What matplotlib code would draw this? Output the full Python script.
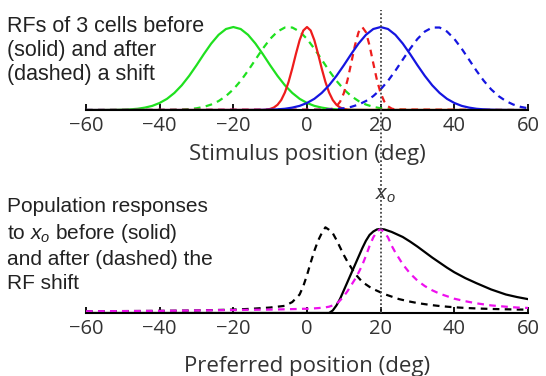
import numpy as np
import matplotlib
matplotlib.use('Agg')
import matplotlib.pyplot as plt

plt.rcParams['mathtext.fontset'] = 'custom'
plt.rcParams['mathtext.rm'] = 'Liberation Sans'
plt.rcParams['mathtext.it'] = 'Liberation Sans:italic'

# ---- data ----
# receptive fields (top panel), sampled every 2 deg
rf_x = np.arange(-60, 61, 2)
green_before = [0, 0, 0, .001, .002, .004, .008, .015, .029, .050, .085, .135, .206, .298, .411,
                .539, .674, .801, .906, .976, 1, .976, .906, .801, .674, .539, .411, .298, .206,
                .135, .085, .050, .029, .015, .008, .004, .002, .001] + [0] * 23
green_after = [0] * 11 + [.001, .003, .006, .011, .021, .038, .066, .108, .168, .249, .352, .474,
                          .607, .739, .857, .946, .994, .994, .946, .857, .739, .607, .474, .352,
                          .249, .168, .108, .066, .038, .021, .011, .006, .003, .001] + [0] * 16
blue_before = [0] * 23 + [.001, .002, .004, .008, .015, .029, .050, .085, .135, .206, .298, .411,
                          .539, .674, .801, .906, .976, 1, .976, .906, .801, .674, .539, .411,
                          .298, .206, .135, .085, .050, .029, .015, .008, .004, .002, .001, 0, 0, 0]
blue_after = [0] * 31 + [.001, .003, .006, .011, .021, .038, .066, .108, .168, .249, .352, .474,
                         .607, .739, .857, .946, .994, .994, .946, .857, .739, .607, .474, .352,
                         .249, .168, .108, .066, .038, .021]

# narrow (red) cell, sampled every 1 deg near its peak
red_before_x = [-60] + list(range(-12, 13)) + [60]
red_before = [0, .002, .005, .013, .030, .063, .120, .211, .339, .500, .677, .841, .958, 1,
              .958, .841, .677, .500, .339, .211, .120, .063, .030, .013, .005, .002, 0]
red_after_x = [-60] + list(range(6, 25)) + [60]
red_after = [0, .006, .017, .044, .101, .203, .360, .563, .775, .938, 1, .938, .775, .563, .360,
             .203, .101, .044, .017, .006, 0]

# population responses (bottom panel)
pop_x = [-60, -40, -30, -20, -15, -10, -8, -6, -4, -2, -1, 0, 1, 2, 3, 4, 5, 6, 7, 8, 9, 10,
         11, 12, 13, 14, 15, 16, 17, 18, 19, 20, 21, 22, 23, 24, 25, 26, 28, 30, 32, 34, 36, 38,
         40, 43, 46, 50, 54, 57, 60]
pop_before = [0] * 18 + [.03, .09, .17, .27, .37, .47, .57, .67, .77, .86, .93, .97, .995, 1,
                         .995, .98, .965, .945, .925, .905, .85, .79, .725, .66, .60, .54, .485,
                         .415, .355, .28, .22, .19, .165]
pop_after_magenta = [.02, .025, .03, .035, .038, .04, .042, .044, .046, .048, .05, .05, .052,
                     .055, .058, .062, .067, .075, .09, .11, .15, .2, .26, .33, .4, .48, .57,
                     .68, .8, .9, .97, 1, .96, .9, .8, .72, .65, .58, .47, .385, .32, .27, .23,
                     .2, .17, .14, .115, .09, .075, .065, .06]
pop_after_black = [.02, .025, .03, .04, .05, .065, .075, .085, .13, .22, .32, .45, .6, .74, .86,
                   .95, 1.02, .99, .95, .87, .78, .69, .61, .54, .47, .42, .37, .34, .31, .285,
                   .265, .245, .225, .21, .195, .18, .165, .155, .135, .118, .105, .093, .083,
                   .075, .068, .06, .054, .048, .044, .041, .04]

x_ticks = [-60, -40, -20, 0, 20, 40, 60]
x_stim = 20

GREEN = '#1fe01f'
RED = '#ee1c1c'
BLUE = '#1515e0'
MAGENTA = '#ee10ee'

fig = plt.figure(figsize=(5.46, 3.76), dpi=100)
ax1 = fig.add_axes([0.1575, 0.7074, 0.8095, 0.2428])
ax2 = fig.add_axes([0.1575, 0.1676, 0.8095, 0.2457])

dash = (0, (3, 2.4))
lw = 1.6
ax1.plot(rf_x, green_before, c=GREEN, lw=lw)
ax1.plot(rf_x, green_after, c=GREEN, lw=lw, ls=dash)
ax1.plot(red_before_x, red_before, c=RED, lw=lw)
ax1.plot(red_after_x, red_after, c=RED, lw=lw, ls=dash)
ax1.plot(rf_x, blue_before, c=BLUE, lw=lw)
ax1.plot(rf_x, blue_after, c=BLUE, lw=lw, ls=dash)

ax2.plot(pop_x, pop_before, c='k', lw=lw)
ax2.plot(pop_x, pop_after_black, c='k', lw=lw, ls=dash)
ax2.plot(pop_x, pop_after_magenta, c=MAGENTA, lw=lw, ls=dash)

for ax in (ax1, ax2):
    ax.set_xlim(-60, 60)
    ax.set_ylim(0, 1.1)
    ax.set_yticks([])
    ax.set_xticks(x_ticks)
    ax.set_xticklabels([str(t).replace('-', '\u2212') for t in x_ticks],
                       fontfamily='Open Sans')
    for s in ('top', 'left', 'right'):
        ax.spines[s].set_visible(False)
    ax.spines['bottom'].set_linewidth(1.5)
    ax.tick_params(axis='x', direction='in', length=4, width=1.3, color='k',
                   labelsize=14.5, labelcolor='#333333', pad=4)
    ax.patch.set_alpha(0)

ax1.set_xlabel('Stimulus position (deg)', fontsize=16, color='#333333', fontfamily='Open Sans')
ax1.xaxis.set_label_coords(0.5, -0.37)
ax2.set_xlabel('Preferred position (deg)', fontsize=16, color='#333333', fontfamily='Open Sans')
ax2.xaxis.set_label_coords(0.5, -0.47)

# dotted line at the stimulus position, running through both panels
ax2.axvline(x_stim, ymin=0, ymax=3.28, clip_on=False, color='#444444', lw=1.3,
            ls=(0, (1, 1.2)), zorder=5)
ax2.annotate('$x_o$', xy=(x_stim, 1.40), xytext=(-4, 0), textcoords='offset points',
             ha='left', va='center', fontsize=15, color='#333333', annotation_clip=False)

fig.text(0.012, 1 - 16 / 376, 'RFs of 3 cells before\n(solid) and after\n(dashed) a shift',
         ha='left', va='top', fontsize=15.5, color='#222222', fontfamily='Liberation Sans',
         linespacing=1.18)
fig.text(0.012, 1 - 197 / 376,
         'Population responses\nto $x_o$ before (solid)\nand after (dashed) the\nRF shift',
         ha='left', va='top', fontsize=15, color='#222222', fontfamily='Liberation Sans',
         linespacing=1.34)

fig.savefig('out.png', dpi=100)
